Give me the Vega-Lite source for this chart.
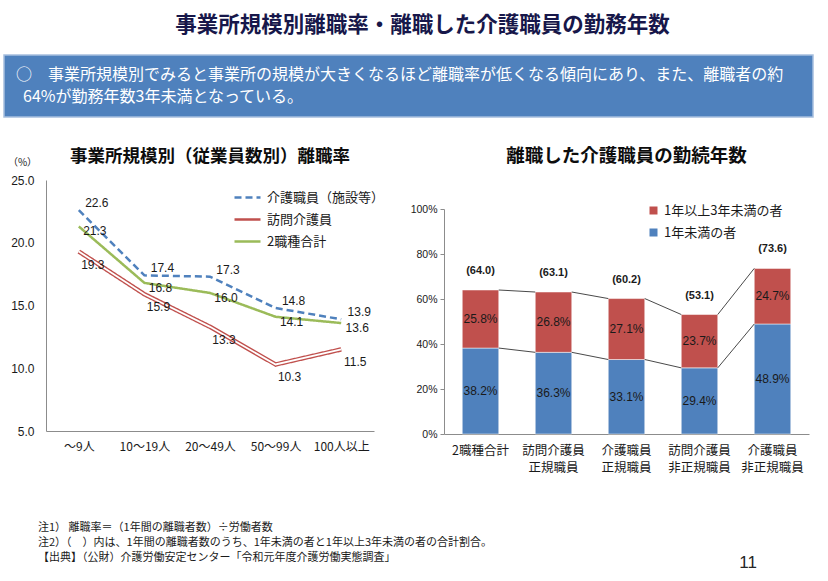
{
  "$schema": "https://vega.github.io/schema/vega-lite/v6.json",
  "background": "white",
  "padding": {"left": 3, "top": 14, "right": 10, "bottom": 5},
  "config": {
    "font": "Noto Sans CJK JP",
    "view": {"stroke": null},
    "axis": {"grid": false, "domainColor": "#8c8c8c", "tickColor": "#8c8c8c", "labelColor": "#1a1a1a", "labelFont": "Liberation Sans, Noto Sans CJK JP"},
    "legend": {"labelFont": "Noto Sans CJK JP", "labelColor": "#1a1a1a"}
  },
  "title": {"text": "事業所規模別離職率・離職した介護職員の勤務年数", "fontSize": 21.5, "fontWeight": "bold", "color": "#17174A", "anchor": "middle", "dx": 14, "offset": 18, "font": "Noto Sans CJK JP"},
  "datasets": {
    "rate": [
      {"size": "～9人", "series": "介護職員（施設等）", "value": 22.6},
      {"size": "10～19人", "series": "介護職員（施設等）", "value": 17.4},
      {"size": "20～49人", "series": "介護職員（施設等）", "value": 17.3},
      {"size": "50～99人", "series": "介護職員（施設等）", "value": 14.8},
      {"size": "100人以上", "series": "介護職員（施設等）", "value": 13.9},
      {"size": "～9人", "series": "訪問介護員", "value": 19.3},
      {"size": "10～19人", "series": "訪問介護員", "value": 15.9},
      {"size": "20～49人", "series": "訪問介護員", "value": 13.3},
      {"size": "50～99人", "series": "訪問介護員", "value": 10.3},
      {"size": "100人以上", "series": "訪問介護員", "value": 11.5},
      {"size": "～9人", "series": "2職種合計", "value": 21.3},
      {"size": "10～19人", "series": "2職種合計", "value": 16.8},
      {"size": "20～49人", "series": "2職種合計", "value": 16.0},
      {"size": "50～99人", "series": "2職種合計", "value": 14.1},
      {"size": "100人以上", "series": "2職種合計", "value": 13.6}
    ],
    "tenure": [
      {"cat": "2職種合計", "type": "1年未満の者", "value": 38.2, "ord": 1},
      {"cat": "2職種合計", "type": "1年以上3年未満の者", "value": 25.8, "ord": 2},
      {"cat": "訪問介護員 正規職員", "type": "1年未満の者", "value": 36.3, "ord": 1},
      {"cat": "訪問介護員 正規職員", "type": "1年以上3年未満の者", "value": 26.8, "ord": 2},
      {"cat": "介護職員 正規職員", "type": "1年未満の者", "value": 33.1, "ord": 1},
      {"cat": "介護職員 正規職員", "type": "1年以上3年未満の者", "value": 27.1, "ord": 2},
      {"cat": "訪問介護員 非正規職員", "type": "1年未満の者", "value": 29.4, "ord": 1},
      {"cat": "訪問介護員 非正規職員", "type": "1年以上3年未満の者", "value": 23.7, "ord": 2},
      {"cat": "介護職員 非正規職員", "type": "1年未満の者", "value": 48.9, "ord": 1},
      {"cat": "介護職員 非正規職員", "type": "1年以上3年未満の者", "value": 24.7, "ord": 2}
    ],
    "totals": [
      {"cat": "2職種合計", "total": 64.0},
      {"cat": "訪問介護員 正規職員", "total": 63.1},
      {"cat": "介護職員 正規職員", "total": 60.2},
      {"cat": "訪問介護員 非正規職員", "total": 53.1},
      {"cat": "介護職員 非正規職員", "total": 73.6}
    ],
    "links": [
      {"from": "2職種合計", "to": "訪問介護員 正規職員", "y1": 64.0, "y2": 63.1},
      {"from": "訪問介護員 正規職員", "to": "介護職員 正規職員", "y1": 63.1, "y2": 60.2},
      {"from": "介護職員 正規職員", "to": "訪問介護員 非正規職員", "y1": 60.2, "y2": 53.1},
      {"from": "訪問介護員 非正規職員", "to": "介護職員 非正規職員", "y1": 53.1, "y2": 73.6},
      {"from": "2職種合計", "to": "訪問介護員 正規職員", "y1": 38.2, "y2": 36.3},
      {"from": "訪問介護員 正規職員", "to": "介護職員 正規職員", "y1": 36.3, "y2": 33.1},
      {"from": "介護職員 正規職員", "to": "訪問介護員 非正規職員", "y1": 33.1, "y2": 29.4},
      {"from": "訪問介護員 非正規職員", "to": "介護職員 非正規職員", "y1": 29.4, "y2": 48.9}
    ],
    "summary": [
      {"line": 1, "text": "○　事業所規模別でみると事業所の規模が大きくなるほど離職率が低くなる傾向にあり、また、離職者の約"},
      {"line": 2, "text": "64%が勤務年数3年未満となっている。"}
    ]
  },
  "columns": 1,
  "spacing": 28,
  "resolve": {"scale": {"color": "independent", "strokeDash": "independent"}, "legend": {"color": "independent", "strokeDash": "independent"}},
  "concat": [
    {
      "width": 767,
      "height": 62,
      "layer": [
        {
          "data": {"values": [{"panel": "summary"}]},
          "mark": {"type": "rect", "fill": "#4F81BD", "stroke": "#A7BFDE", "strokeWidth": 1.5},
          "encoding": {
            "x": {"datum": 0, "type": "quantitative", "scale": {"domain": [0, 1], "range": [-42, 767]}, "axis": null},
            "x2": {"datum": 1}
          }
        },
        {
          "data": {"name": "summary"},
          "transform": [{"filter": "datum.line === 1"}],
          "mark": {"type": "text", "align": "left", "baseline": "middle", "color": "white", "fontSize": 16, "font": "Noto Sans CJK JP", "dx": 12},
          "encoding": {
            "y": {"field": "line", "type": "ordinal", "axis": null, "scale": {"type": "point", "padding": 0.87, "domain": [1, 2]}},
            "x": {"datum": 0, "type": "quantitative"},
            "text": {"field": "text"}
          }
        },
        {
          "data": {"name": "summary"},
          "transform": [{"filter": "datum.line === 2"}],
          "mark": {"type": "text", "align": "left", "baseline": "middle", "color": "white", "fontSize": 16, "font": "Noto Sans CJK JP", "dx": 19},
          "encoding": {
            "y": {"field": "line", "type": "ordinal", "axis": null},
            "x": {"datum": 0, "type": "quantitative"},
            "text": {"field": "text"}
          }
        }
      ]
    },
    {
      "title": {"text": "11", "orient": "bottom", "anchor": "end", "fontSize": 17, "fontWeight": "normal", "color": "#262626", "offset": -8, "dx": -52, "font": "Liberation Sans"},
      "resolve": {"scale": {"color": "independent", "strokeDash": "independent"}, "legend": {"color": "independent", "strokeDash": "independent"}},
      "vconcat": [
        {
          "title": {
            "text": ["注1） 離職率＝（1年間の離職者数）÷労働者数", "注2）（　）内は、1年間の離職者数のうち、1年未満の者と1年以上3年未満の者の合計割合。", "【出典】（公財）介護労働安定センター「令和元年度介護労働実態調査」"],
            "orient": "bottom", "anchor": "start", "fontSize": 11, "fontWeight": "normal", "lineHeight": 15, "offset": 48, "dx": 34, "color": "#1a1a1a", "font": "Noto Sans CJK JP"
          },
          "spacing": 19,
          "resolve": {"scale": {"color": "independent", "strokeDash": "independent"}, "legend": {"color": "independent", "strokeDash": "independent"}},
          "hconcat": [
            {
              "width": 328,
              "height": 251,
              "title": {"text": "事業所規模別（従業員数別）離職率", "fontSize": 17.5, "fontWeight": "bold", "color": "#0d0d0d", "frame": "group", "offset": -8, "anchor": "middle"},
              "data": {"name": "rate"},
              "encoding": {
                "x": {"field": "size", "type": "ordinal", "sort": null, "scale": {"type": "point", "padding": 0.5},
                  "axis": {"title": null, "labelAngle": 0, "ticks": false, "labelPadding": 10, "labelFontSize": 12, "labelFont": "Noto Sans CJK JP"}},
                "y": {"field": "value", "type": "quantitative", "scale": {"domain": [5, 25], "nice": false, "zero": false},
                  "axis": {"values": [5, 10, 15, 20, 25], "format": ".1f", "ticks": false, "labelPadding": 12, "labelFontSize": 12,
                    "title": "（%）", "titleAngle": 0, "titleX": -24, "titleY": -18, "titleAlign": "center", "titleBaseline": "middle", "titleFontSize": 10, "titleFontWeight": "normal", "titleColor": "#1a1a1a", "minExtent": 42}}
              },
              "layer": [
                {
                  "transform": [{"filter": "datum.series === '訪問介護員'"}],
                  "mark": {"type": "line", "strokeWidth": 4.5},
                  "encoding": {
                    "color": {"field": "series", "type": "nominal", "scale": {"domain": ["介護職員（施設等）", "訪問介護員", "2職種合計"], "range": ["#4F81BD", "#C0504D", "#9BBB59"]},
                      "legend": {"title": null, "orient": "none", "legendX": 187, "legendY": 3, "symbolType": "stroke", "symbolSize": 676, "symbolStrokeWidth": 2.5, "labelFontSize": 13, "rowPadding": -5, "labelOffset": 5}},
                    "strokeDash": {"field": "series", "type": "nominal", "scale": {"domain": ["介護職員（施設等）", "訪問介護員", "2職種合計"], "range": [[7, 4], [1, 0], [1, 0]]},
                      "legend": {"title": null, "orient": "none", "legendX": 187, "legendY": 3, "symbolType": "stroke", "symbolSize": 676, "symbolStrokeWidth": 2.5, "labelFontSize": 13, "rowPadding": -5, "labelOffset": 5}}
                  }
                },
                {
                  "transform": [{"filter": "datum.series === '訪問介護員'"}],
                  "mark": {"type": "line", "strokeWidth": 1.8, "color": "white"},
                  "encoding": {}
                },
                {
                  "transform": [{"filter": "datum.series !== '訪問介護員'"}],
                  "mark": {"type": "line", "strokeWidth": 2.5},
                  "encoding": {
                    "color": {"field": "series", "type": "nominal"},
                    "strokeDash": {"field": "series", "type": "nominal"}
                  }
                },
                {
                  "transform": [{"filter": "datum.series === '介護職員（施設等）'"}],
                  "mark": {"type": "text", "dx": 18, "dy": -7, "fontSize": 12, "color": "#1a1a1a", "font": "Liberation Sans"},
                  "encoding": {"text": {"field": "value", "format": ".1f"}}
                },
                {
                  "transform": [{"filter": "datum.series === '2職種合計'"}],
                  "mark": {"type": "text", "dx": 16, "dy": 5, "fontSize": 12, "color": "#1a1a1a", "font": "Liberation Sans"},
                  "encoding": {"text": {"field": "value", "format": ".1f"}}
                },
                {
                  "transform": [{"filter": "datum.series === '訪問介護員'"}],
                  "mark": {"type": "text", "dx": 14, "dy": 13, "fontSize": 12, "color": "#1a1a1a", "font": "Liberation Sans"},
                  "encoding": {"text": {"field": "value", "format": ".1f"}}
                }
              ]
            },
            {
              "width": 365,
              "height": 254,
              "title": {"text": "離職した介護職員の勤続年数", "fontSize": 18.5, "fontWeight": "bold", "color": "#0d0d0d", "frame": "group", "offset": 15, "anchor": "middle"},
              "layer": [
                {
                  "data": {"name": "tenure"},
                  "transform": [{"stack": "value", "groupby": ["cat"], "sort": [{"field": "ord"}], "as": ["v0", "v1"]}],
                  "mark": {"type": "bar", "stroke": "white", "strokeWidth": 0.5},
                  "encoding": {
                    "x": {"field": "cat", "type": "nominal",
                      "scale": {"domain": ["2職種合計", "訪問介護員 正規職員", "介護職員 正規職員", "訪問介護員 非正規職員", "介護職員 非正規職員"], "paddingInner": 0.5, "paddingOuter": 0.25},
                      "axis": {"title": null, "labelAngle": 0, "labelAlign": "center", "bandPosition": 0.5, "ticks": false, "labelPadding": 10, "labelFontSize": 12.5, "labelFont": "Noto Sans CJK JP", "labelExpr": "split(datum.label, ' ')", "labelLineHeight": 17, "labelBaseline": "top"}},
                    "y": {"field": "v0", "type": "quantitative", "scale": {"domain": [0, 100], "nice": false, "range": [254, 29]},
                      "axis": {"title": null, "values": [0, 20, 40, 60, 80, 100], "labelExpr": "datum.value + '%'", "tickSize": 4, "labelPadding": 3, "labelFontSize": 10.5, "minExtent": 40}},
                    "y2": {"field": "v1"},
                    "color": {"field": "type", "type": "nominal", "scale": {"domain": ["1年以上3年未満の者", "1年未満の者"], "range": ["#C0504D", "#4F81BD"]},
                      "legend": {"title": null, "orient": "none", "legendX": 203, "legendY": 24, "symbolType": "square", "symbolSize": 64, "symbolOpacity": 1, "symbolStrokeWidth": 0, "labelFontSize": 13, "rowPadding": 8, "labelOffset": 4}}
                  }
                },
                {
                  "data": {"name": "links"},
                  "mark": {"type": "rule", "color": "#1a1a1a", "strokeWidth": 0.8},
                  "encoding": {
                    "x": {"field": "from", "type": "nominal", "bandPosition": 1},
                    "x2": {"field": "to", "bandPosition": 0},
                    "y": {"field": "y1", "type": "quantitative"},
                    "y2": {"field": "y2"}
                  }
                },
                {
                  "data": {"name": "tenure"},
                  "transform": [
                    {"stack": "value", "groupby": ["cat"], "sort": [{"field": "ord"}], "as": ["v0", "v1"]},
                    {"calculate": "(datum.v0 + datum.v1) / 2", "as": "mid"},
                    {"calculate": "format(datum.value, '.1f') + '%'", "as": "lbl"}
                  ],
                  "mark": {"type": "text", "fontSize": 12, "color": "#1a1a1a", "font": "Liberation Sans"},
                  "encoding": {
                    "x": {"field": "cat", "type": "nominal"},
                    "y": {"field": "mid", "type": "quantitative"},
                    "text": {"field": "lbl"}
                  }
                },
                {
                  "data": {"name": "totals"},
                  "transform": [{"calculate": "'(' + format(datum.total, '.1f') + ')'", "as": "lbl"}],
                  "mark": {"type": "text", "baseline": "bottom", "dy": -14, "fontSize": 11, "fontWeight": "bold", "color": "#1a1a1a", "font": "Liberation Sans"},
                  "encoding": {
                    "x": {"field": "cat", "type": "nominal"},
                    "y": {"field": "total", "type": "quantitative"},
                    "text": {"field": "lbl"}
                  }
                }
              ]
            }
          ]
        }
      ]
    }
  ]
}
